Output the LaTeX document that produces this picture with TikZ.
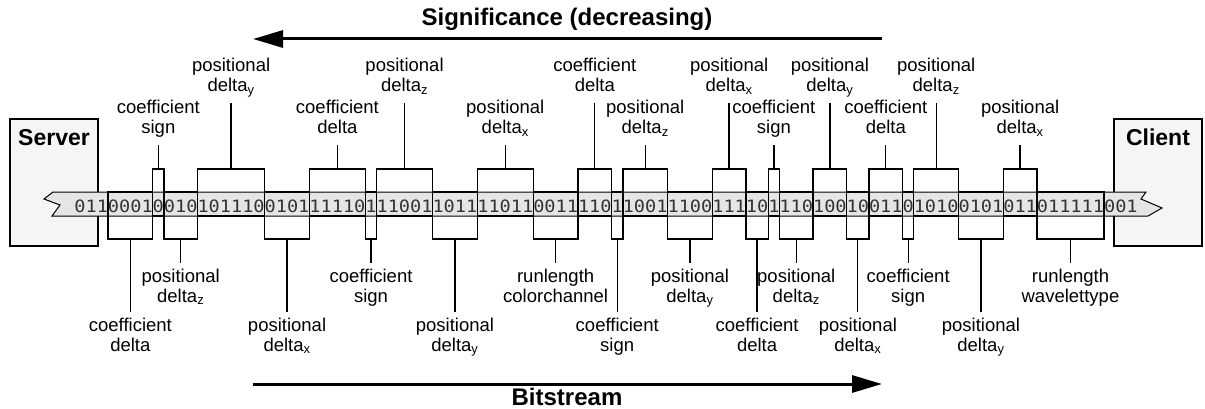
\documentclass[tikz,border=0pt]{standalone}
\usepackage{fontspec}
\setmainfont{Liberation Sans}
\newfontfamily\bitfont[FakeStretch=1.0935]{DejaVu Sans Mono}
\usetikzlibrary{positioning, arrows.meta}
\newcommand{\twoline}[2]{\strut #1\\ \strut #2}

\begin{document}
\begin{tikzpicture}[x=1pt, y=-1pt,
  bits/.style={inner sep=0pt, outer sep=0pt, anchor=base west, text=black!80, font=\bitfont\fontsize{17}{20}\selectfont},
  upbox/.style={bits, draw, line width=1.4pt, text height=43pt, text depth=4pt},
  downbox/.style={bits, draw, line width=1.4pt, text height=20pt, text depth=27pt},
  tag/.style={align=center, inner xsep=0pt, inner ysep=5pt, font=\fontsize{18.5}{20}\selectfont},
  host/.style={draw, fill=black!4, line width=1.3pt, inner sep=0pt, outer sep=0pt, minimum width=88pt, text height=27pt, text depth=100pt, font=\fontsize{23}{28}\selectfont\bfseries},
  title/.style={anchor=base, font=\fontsize{24}{28}\selectfont\bfseries},
  flow/.style={line width=3pt, -{Triangle[length=30pt, width=17pt]}},
  leader/.style={line width=1.3pt}]
\useasboundingbox (0,0) rectangle (1205,409);

% server and client
\node[host, anchor=north west] (server) at (10,119) {Server};
\node[host, anchor=north east] (client) at (1202,119) {Client};

% the stream
\draw[fill=black!10, line width=1pt] (53,192) -- (1146,192) -- (1141,199) -- (1162,208) -- (1148,216)
  -- (52,216) -- (60,205) -- (44,199) -- cycle;

\node[bits] (s0) at (74.4,212) {011};
\node[downbox] (s1) at (s0.base east) {0001};
\node[upbox] (s2) at (s1.base east) {0};
\node[downbox] (s3) at (s2.base east) {010};
\node[upbox] (s4) at (s3.base east) {101110};
\node[downbox] (s5) at (s4.base east) {0101};
\node[upbox] (s6) at (s5.base east) {11110};
\node[downbox] (s7) at (s6.base east) {1};
\node[upbox] (s8) at (s7.base east) {11001};
\node[downbox] (s9) at (s8.base east) {1011};
\node[upbox] (s10) at (s9.base east) {11011};
\node[downbox] (s11) at (s10.base east) {0011};
\node[upbox] (s12) at (s11.base east) {110};
\node[downbox] (s13) at (s12.base east) {1};
\node[upbox] (s14) at (s13.base east) {1001};
\node[downbox] (s15) at (s14.base east) {1100};
\node[upbox] (s16) at (s15.base east) {111};
\node[downbox] (s17) at (s16.base east) {10};
\node[upbox] (s18) at (s17.base east) {1};
\node[downbox] (s19) at (s18.base east) {110};
\node[upbox] (s20) at (s19.base east) {100};
\node[downbox] (s21) at (s20.base east) {10};
\node[upbox] (s22) at (s21.base east) {011};
\node[downbox] (s23) at (s22.base east) {0};
\node[upbox] (s24) at (s23.base east) {1010};
\node[downbox] (s25) at (s24.base east) {0101};
\node[upbox] (s26) at (s25.base east) {011};
\node[downbox] (s27) at (s26.base east) {011111};
\node[bits] (s28) at (s27.base east) {001};

% labels above
\node[tag, above=24pt of s2] (t2) {\twoline{coefficient}{sign}};
\node[tag, above=66pt of s4] (t4) {\twoline{positional}{delta\textsubscript{y}}};
\node[tag, above=24pt of s6] (t6) {\twoline{coefficient}{delta}};
\node[tag, above=66pt of s8] (t8) {\twoline{positional}{delta\textsubscript{z}}};
\node[tag, above=24pt of s10] (t10) {\twoline{positional}{delta\textsubscript{x}}};
\node[tag, above=66pt of s12] (t12) {\twoline{coefficient}{delta}};
\node[tag, above=24pt of s14] (t14) {\twoline{positional}{delta\textsubscript{z}}};
\node[tag, above=66pt of s16] (t16) {\twoline{positional}{delta\textsubscript{x}}};
\node[tag, above=24pt of s18] (t18) {\twoline{coefficient}{sign}};
\node[tag, above=66pt of s20] (t20) {\twoline{positional}{delta\textsubscript{y}}};
\node[tag, above=24pt of s22] (t22) {\twoline{coefficient}{delta}};
\node[tag, above=66pt of s24] (t24) {\twoline{positional}{delta\textsubscript{z}}};
\node[tag, above=24pt of s26] (t26) {\twoline{positional}{delta\textsubscript{x}}};

% labels below
\node[tag, below=73pt of s1] (t1) {\twoline{coefficient}{delta}};
\node[tag, below=24pt of s3] (t3) {\twoline{positional}{delta\textsubscript{z}}};
\node[tag, below=73pt of s5] (t5) {\twoline{positional}{delta\textsubscript{x}}};
\node[tag, below=24pt of s7] (t7) {\twoline{coefficient}{sign}};
\node[tag, below=73pt of s9] (t9) {\twoline{positional}{delta\textsubscript{y}}};
\node[tag, below=24pt of s11] (t11) {\twoline{runlength}{colorchannel}};
\node[tag, below=73pt of s13] (t13) {\twoline{coefficient}{sign}};
\node[tag, below=24pt of s15] (t15) {\twoline{positional}{delta\textsubscript{y}}};
\node[tag, below=73pt of s17] (t17) {\twoline{coefficient}{delta}};
\node[tag, below=24pt of s19] (t19) {\twoline{positional}{delta\textsubscript{z}}};
\node[tag, below=73pt of s21] (t21) {\twoline{positional}{delta\textsubscript{x}}};
\node[tag, below=24pt of s23] (t23) {\twoline{coefficient}{sign}};
\node[tag, below=73pt of s25] (t25) {\twoline{positional}{delta\textsubscript{y}}};
\node[tag, below=24pt of s27] (t27) {\twoline{runlength}{wavelettype}};

\draw[leader] (s1) -- (t1) (s2) -- (t2) (s3) -- (t3) (s4) -- (t4) (s5) -- (t5) (s6) -- (t6) (s7) -- (t7);
\draw[leader] (s8) -- (t8) (s9) -- (t9) (s10) -- (t10) (s11) -- (t11) (s12) -- (t12) (s13) -- (t13) (s14) -- (t14);
\draw[leader] (s15) -- (t15) (s16) -- (t16) (s17) -- (t17) (s18) -- (t18) (s19) -- (t19) (s20) -- (t20) (s21) -- (t21);
\draw[leader] (s22) -- (t22) (s23) -- (t23) (s24) -- (t24) (s25) -- (t25) (s26) -- (t26) (s27) -- (t27);

% significance and bitstream
\node[title] (sig) at (567,26) {Significance (decreasing)};
\coordinate (sigR) at (882,39);
\coordinate (sigL) at (253,39);
\draw[flow] (sigR) -- (sigL);
\node[title] (bit) at (567,405) {Bitstream};
\coordinate (bitL) at (253,384);
\coordinate (bitR) at (882,384);
\draw[flow] (bitL) -- (bitR);
\end{tikzpicture}
\end{document}
